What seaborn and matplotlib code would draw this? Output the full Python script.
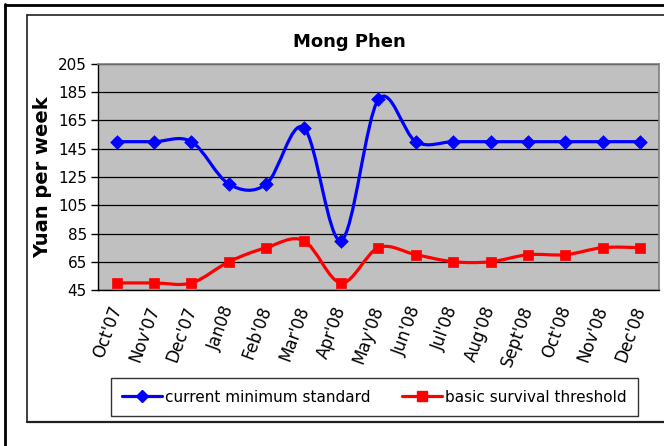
import numpy as np
import pandas as pd
import matplotlib
matplotlib.use("Agg")
import matplotlib.pyplot as plt
import matplotlib.ticker as mticker
from matplotlib.path import Path
from matplotlib.patches import PathPatch
from matplotlib.lines import Line2D
import seaborn as sns

# === Datos ===
meses = ["Oct'07", "Nov'07", "Dec'07", "Jan08", "Feb'08", "Mar'08", "Apr'08", "May'08",
         "Jun'08", "Jul'08", "Aug'08", "Sept'08", "Oct'08", "Nov'08", "Dec'08"]
minimo_actual = [150, 150, 150, 120, 120, 160, 80, 180, 150, 150, 150, 150, 150, 150, 150]
umbral_basico = [50, 50, 50, 65, 75, 80, 50, 75, 70, 65, 65, 70, 70, 75, 75]
marcas_y = [45, 65, 85, 105, 125, 145, 165, 185, 205]

series = {
    "current minimum standard": (minimo_actual, "#0000FF", "D", 48),
    "basic survival threshold": (umbral_basico, "#FF0000", "s", 52),
}

sns.set_style("white")
plt.rcParams["font.family"] = ["DejaVu Sans"]
plt.rcParams.update({"text.color": "black", "axes.labelcolor": "black",
                     "xtick.color": "black", "ytick.color": "black"})


def curva_suave(xs, ys):
    # Bezier tipo Excel (Catmull-Rom) a partir de los puntos de datos
    pts = np.column_stack([xs, ys]).astype(float)
    n = len(pts)
    verts = [pts[0]]
    codes = [Path.MOVETO]
    for i in range(n - 1):
        p0 = pts[max(i - 1, 0)]
        p1 = pts[i]
        p2 = pts[i + 1]
        p3 = pts[min(i + 2, n - 1)]
        verts += [p1 + (p2 - p0) / 6, p2 - (p3 - p1) / 6, p2]
        codes += [Path.CURVE4] * 3
    return Path(verts, codes)


fig = plt.figure(figsize=(6.64, 4.46), dpi=100)
ax = fig.add_axes([98 / 664, 1 - 290 / 446, 561 / 664, 226 / 446])
ax.set_facecolor("#C0C0C0")

pos = np.arange(len(meses))
handles = []
for nombre, (valores, color, marcador, tam) in series.items():
    ax.add_patch(PathPatch(curva_suave(pos, valores), facecolor="none",
                           edgecolor=color, lw=2.3, zorder=2))
    df = pd.DataFrame({"pos": pos, "valor": valores})
    sns.scatterplot(data=df, x="pos", y="valor", marker=marcador, s=tam,
                    color=color, edgecolor=color, linewidth=0.5, ax=ax,
                    zorder=3, legend=False)
    handles.append(Line2D([], [], color=color, lw=2.3, marker=marcador,
                          markersize=6 if marcador == "D" else 6.5, label=nombre))

# === Ejes ===
ax.set_xlim(-0.5, len(meses) - 0.5)
ax.set_ylim(marcas_y[0], marcas_y[-1])
ax.set_yticks(marcas_y)
ax.grid(axis="y", color="black", lw=0.9)
ax.set_axisbelow(True)

ax.set_xticks(pos)
ax.set_xticklabels(meses, rotation=70, ha="right", va="center",
                   rotation_mode="anchor", fontsize=12)
ax.xaxis.set_minor_locator(mticker.FixedLocator(np.arange(-0.5, len(meses), 1)))
ax.tick_params(axis="x", which="major", length=0, pad=12)
ax.tick_params(axis="x", which="minor", length=5, width=1, color="black", direction="out")
ax.tick_params(axis="y", length=5, width=1, color="black", direction="out",
               labelsize=11, pad=3)
ax.tick_params(left=True, bottom=True)

for lado in ["left", "bottom"]:
    ax.spines[lado].set_color("black")
    ax.spines[lado].set_linewidth(1)
for lado in ["top", "right"]:
    ax.spines[lado].set_color("#808080")
    ax.spines[lado].set_linewidth(1.2)

ax.set_xlabel("")
ax.set_ylabel("Yuan per week", fontsize=14, fontweight="bold", labelpad=4)

fig.text(349 / 664, 1 - 42 / 446, "Mong Phen", ha="center", va="center",
         fontsize=13, fontweight="bold")

# === Leyenda ===
leg = fig.legend(handles=handles, loc="center", ncol=2,
                 bbox_to_anchor=(374.5 / 664, 1 - 397 / 446),
                 fontsize=11, frameon=True, fancybox=False, edgecolor="black",
                 handlelength=2.6, handletextpad=0.2, columnspacing=2.1,
                 borderpad=0.75)
leg.get_frame().set_linewidth(1)

# === Marcos del área del gráfico ===
fig.add_artist(Line2D([5 / 664, 5 / 664], [0, 1 - 4 / 446], color="black", lw=2))
fig.add_artist(Line2D([5 / 664, 1], [1 - 5 / 446, 1 - 5 / 446], color="black", lw=2))
fig.add_artist(Line2D([27 / 664, 27 / 664], [1 - 422 / 446, 1 - 15 / 446], color="#202020", lw=1.2))
fig.add_artist(Line2D([27 / 664, 1], [1 - 15 / 446, 1 - 15 / 446], color="#202020", lw=1.2))
fig.add_artist(Line2D([27 / 664, 1], [1 - 422 / 446, 1 - 422 / 446], color="#202020", lw=1.6))

fig.savefig("out.png", dpi=100)
